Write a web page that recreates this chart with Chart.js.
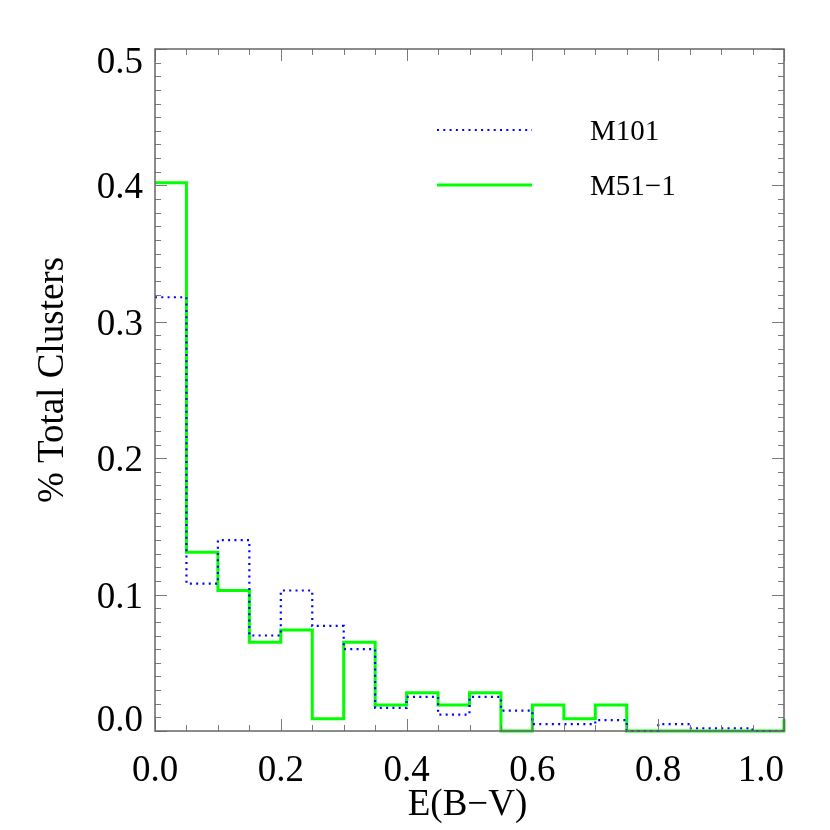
<!DOCTYPE html>
<html>
<head>
<meta charset="utf-8">
<script src="https://cdn.jsdelivr.net/npm/chart.js@4/dist/chart.umd.min.js"></script>
<style>
  html, body { margin: 0; padding: 0; background: #fff; }
  #wrap { width: 830px; height: 830px; }
</style>
</head>
<body>
<div id="wrap"><canvas id="histChart" width="830" height="830"></canvas></div>
<script>
// bin left edges (last entry closes the histogram at 1.0)
const binEdges = [0.00, 0.05, 0.10, 0.15, 0.20, 0.25, 0.30, 0.35, 0.40, 0.45,
                  0.50, 0.55, 0.60, 0.65, 0.70, 0.75, 0.80, 0.85, 0.90, 0.95, 1.00];
const m101 = [0.318, 0.108, 0.140, 0.070, 0.103, 0.077, 0.060, 0.017, 0.025, 0.012,
              0.025, 0.015, 0.005, 0.005, 0.008, 0.000, 0.005, 0.002, 0.002, 0.000, 0.000];
const m51 = [0.402, 0.131, 0.103, 0.065, 0.074, 0.009, 0.065, 0.019, 0.028, 0.019,
             0.028, 0.000, 0.019, 0.009, 0.019, 0.000, 0.000, 0.000, 0.000, 0.000, 0.009];
const xTickLabels = ["0.0", "0.2", "0.4", "0.6", "0.8", "1.0"];
const yTickLabels = ["0.0", "0.1", "0.2", "0.3", "0.4", "0.5"];
const seriesNames = ["M101", "M51\u22121"];

const FONT = '"Liberation Serif", "Times New Roman", serif';

// Mathematica-style frame: inward ticks on all four sides, labels, titles, legend
const framePlugin = {
    id: "frame",
    afterDraw(chart) {
        const { ctx, chartArea: a, scales: { x, y } } = chart;
        ctx.save();

        // ticks
        ctx.strokeStyle = "#7a7a7a";
        ctx.lineWidth = 1;
        for (let i = 0; i <= 20; i++) {
            const px = Math.round(x.getPixelForValue(i * 0.05)) + 0.5;
            const len = i % 4 === 0 ? 12 : 6;
            ctx.beginPath();
            ctx.moveTo(px, a.bottom); ctx.lineTo(px, a.bottom - len);
            ctx.moveTo(px, a.top); ctx.lineTo(px, a.top + len);
            ctx.stroke();
        }
        for (let i = 0; i <= 50; i++) {
            const py = Math.round(y.getPixelForValue(i * 0.01)) + 0.5;
            const len = i % 10 === 0 ? 12 : 6;
            ctx.beginPath();
            ctx.moveTo(a.left, py); ctx.lineTo(a.left + len, py);
            ctx.moveTo(a.right, py); ctx.lineTo(a.right - len, py);
            ctx.stroke();
        }

        // frame
        ctx.strokeStyle = "#666";
        ctx.lineWidth = 1.5;
        ctx.strokeRect(a.left, a.top, a.right - a.left, a.bottom - a.top);

        // tick labels
        ctx.fillStyle = "#000";
        ctx.font = "37px " + FONT;
        ctx.textBaseline = "alphabetic";
        xTickLabels.forEach((t, i) => {
            const px = x.getPixelForValue(parseFloat(t));
            const last = i === xTickLabels.length - 1;
            ctx.textAlign = last ? "right" : "center";
            ctx.fillText(t, last ? a.right : px, a.bottom + 50);
        });
        ctx.textAlign = "right";
        yTickLabels.forEach((t, i) => {
            let base = y.getPixelForValue(parseFloat(t)) + 13;
            if (i === 0) base = a.bottom;
            if (i === yTickLabels.length - 1) base = a.top + 24;
            ctx.fillText(t, a.left - 12, base);
        });

        // axis titles
        ctx.textAlign = "center";
        ctx.fillText("E(B\u2212V)", (a.left + a.right) / 2 - 2, 815);
        ctx.save();
        ctx.translate(63, 380);
        ctx.rotate(-Math.PI / 2);
        ctx.fillText("% Total Clusters", 0, 0);
        ctx.restore();

        // legend
        const ds = chart.data.datasets;
        const rows = [130, 185];
        ds.forEach((d, i) => {
            ctx.beginPath();
            ctx.strokeStyle = d.borderColor;
            ctx.lineWidth = d.borderWidth;
            ctx.setLineDash(d.borderDash || []);
            ctx.moveTo(437, rows[i]);
            ctx.lineTo(532, rows[i]);
            ctx.stroke();
            ctx.setLineDash([]);
            ctx.fillStyle = "#000";
            ctx.font = "29px " + FONT;
            ctx.textAlign = "left";
            ctx.fillText(d.label, 590, rows[i] + 10);
        });

        ctx.restore();
    }
};

const ctx = document.getElementById("histChart").getContext("2d");
new Chart(ctx, {
    type: "line",
    data: {
        datasets: [
            {
                label: seriesNames[0],
                data: binEdges.map((e, i) => ({ x: e, y: m101[i] })),
                borderColor: "#0000ff",
                borderWidth: 2.2,
                borderDash: [2, 4.3],
                stepped: "before",
                pointRadius: 0,
                fill: false,
                clip: 6
            },
            {
                label: seriesNames[1],
                data: binEdges.map((e, i) => ({ x: e, y: m51[i] })),
                borderColor: "#00ff00",
                borderWidth: 3,
                stepped: "before",
                pointRadius: 0,
                fill: false,
                clip: 6
            }
        ]
    },
    options: {
        responsive: false,
        animation: false,
        layout: { padding: { left: 155, top: 49, right: 46, bottom: 99 } },
        plugins: { legend: { display: false }, tooltip: { enabled: false } },
        scales: {
            x: { type: "linear", min: 0, max: 1, display: false },
            y: { type: "linear", min: 0, max: 0.5, display: false }
        }
    },
    plugins: [framePlugin]
});
</script>
</body>
</html>
